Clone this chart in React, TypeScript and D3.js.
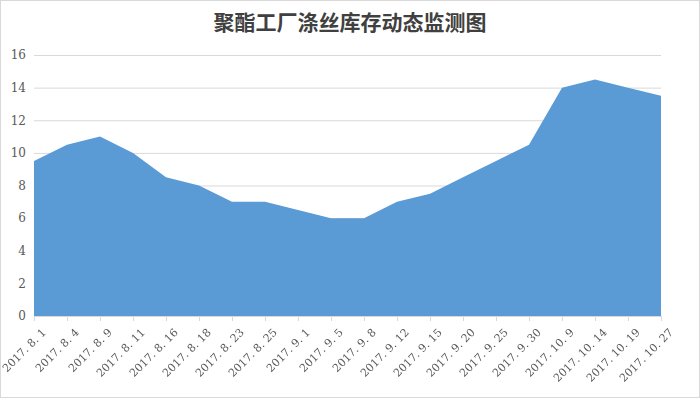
import React, { useRef, useEffect } from 'react';
import * as d3 from 'd3';

// dates on the x axis
const categories = [
    '2017.8.1', '2017.8.4', '2017.8.9', '2017.8.11', '2017.8.16',
    '2017.8.18', '2017.8.23', '2017.8.25', '2017.9.1', '2017.9.5',
    '2017.9.8', '2017.9.12', '2017.9.15', '2017.9.20', '2017.9.25',
    '2017.9.30', '2017.10.9', '2017.10.14', '2017.10.19', '2017.10.27',
];
// inventory (days)
const values = [
    9.5, 10.5, 11, 10, 8.5, 8, 7, 7, 6.5, 6,
    6, 7, 7.5, 8.5, 9.5, 10.5, 14, 14.5, 14, 13.5,
];
const yTicks = [0, 2, 4, 6, 8, 10, 12, 14, 16];
const title = '聚酯工厂涤丝库存动态监测图';

const W = 700;
const H = 399;

const App: React.FC = () => {
    const svgRef = useRef<SVGSVGElement | null>(null);

    useEffect(() => {
        if (!svgRef.current) return;
        const svg = d3.select(svgRef.current);
        svg.selectAll('*').remove();

        const margin = { top: 55, right: 39, bottom: 83, left: 34 };
        const innerWidth = W - margin.left - margin.right;
        const innerHeight = H - margin.top - margin.bottom;

        svg.append('rect')
            .attr('x', 0.5)
            .attr('y', 0.5)
            .attr('width', W - 1)
            .attr('height', H - 2)
            .attr('fill', '#fff')
            .attr('stroke', '#d9d9d9');

        svg.append('text')
            .attr('x', W / 2)
            .attr('y', 30)
            .attr('text-anchor', 'middle')
            .attr('font-family', '"Noto Sans CJK SC", sans-serif')
            .attr('font-size', 21)
            .attr('font-weight', 'bold')
            .attr('fill', '#404040')
            .text(title);

        const x = d3
            .scalePoint<string>()
            .domain(categories)
            .range([0, innerWidth]);

        const y = d3.scaleLinear().domain([0, 16]).range([innerHeight, 0]);

        const g = svg
            .append('g')
            .attr('transform', `translate(${margin.left},${margin.top})`);

        // grid
        g.append('g')
            .call(d3.axisLeft(y).tickValues(yTicks).tickSize(-innerWidth).tickPadding(8).tickFormat(d3.format('d')))
            .call((s) => s.select('.domain').remove())
            .call((s) => s.selectAll('.tick line').attr('stroke', '#d9d9d9'))
            .call((s) =>
                s.selectAll('.tick text')
                    .attr('fill', '#595959')
                    .attr('font-size', 12)
                    .attr('font-family', '"DejaVu Serif", serif'),
            );

        const area = d3
            .area<number>()
            .x((_, i) => x(categories[i])!)
            .y0(innerHeight)
            .y1((d) => y(d));

        g.append('path')
            .datum(values)
            .attr('fill', '#5b9bd5')
            .attr('d', area);

        const xAxis = g
            .append('g')
            .attr('transform', `translate(0,${innerHeight})`)
            .call(
                d3
                    .axisBottom(x)
                    .tickSize(5)
                    .tickPadding(4)
                    .tickFormat((d) => d.replace(/\./g, '. ')),
            );
        xAxis.select('.domain').attr('stroke', '#d9d9d9');
        xAxis.selectAll('.tick line').attr('stroke', '#d9d9d9');
        xAxis.selectAll('.tick text')
            .attr('fill', '#595959')
            .attr('font-size', 11)
            .attr('font-family', '"DejaVu Serif", serif')
            .attr('text-anchor', 'end')
            .attr('dy', '0.35em')
            .attr('transform', 'translate(3,8) rotate(-45)');
    }, []);

    return (
        <div style={{ position: 'fixed', left: 0, top: 0, width: W, height: H }}>
            <svg ref={svgRef} width={W} height={H} style={{ display: 'block' }} />
        </div>
    );
};

export default App;
